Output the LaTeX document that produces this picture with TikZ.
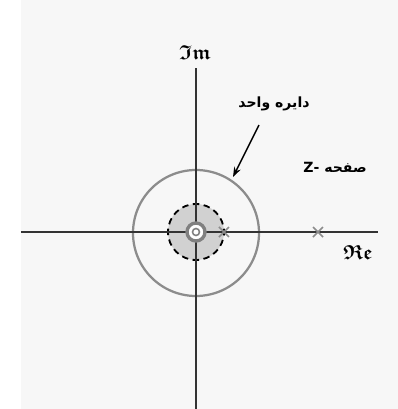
\documentclass[tikz,border=0pt]{standalone}
\usepackage{amsmath,amssymb}
\usepackage{fontspec}
\newfontfamily\arabicfont[Script=Arabic]{DejaVu Sans}
\TeXXeTstate=1
\usetikzlibrary{arrows.meta,positioning}
\tikzset{
  zpaxis/.style={line width=1.1pt,draw=black!80},
  zpunit/.style={line width=1.6pt,draw=black!45},
  zpregion/.style={line width=1.3pt,draw=black,fill=black!18,
    dash pattern=on 4.6pt off 3.2pt,dash phase=2.3pt},
  zpzero/.style={line width=2.4pt,draw=black!50,fill=white},
  zpzeroin/.style={line width=1.1pt,draw=black!50,fill=white},
  zppole/.style={line width=1.2pt,draw=black!45},
  zpedge/.style={-{Stealth[length=7pt,width=5pt]},line width=1.1pt},
  zpaxislab/.style={font=\Large\boldmath},
  zplabel/.style={font=\arabicfont\bfseries\normalsize,inner sep=1pt}
}
\newcommand{\zpcross}[2]{%
  \draw[zppole] (#1-5,#2-5) -- (#1+5,#2+5) (#1-5,#2+5) -- (#1+5,#2-5);}

\begin{document}
\begin{tikzpicture}[x=0.025cm,y=0.025cm]
  % page
  \useasboundingbox (-196,-177) rectangle (202,232);
  \fill[black!3] (-175,-177) rectangle (202,232);

  % circles
  \draw[zpunit] (0,-1) circle[radius=63];
  \draw[zpregion] (0,0) circle[radius=28];

  % axes
  \draw[zpaxis] (-175,0) -- (182,0);
  \draw[zpaxis] (0,-177) -- (0,164);

  % zero and poles
  \draw[zpzero] (0,0) circle[radius=9];
  \draw[zpzeroin] (0,0) circle[radius=3.5];
  \zpcross{28}{0}
  \zpcross{122}{0}

  % labels
  \node[zpaxislab] (imlab) at (-1,179) {$\mathfrak{Im}$};
  \node[zpaxislab] (relab) at (162,-20) {$\mathfrak{Re}$};
  \node[zplabel] (unitlab) at (78,128) {\beginR دایره واحد\endR};
  \node[zplabel] (planelab) at (139,65) {\beginR صفحه \beginL Z-\endL\endR};

  \coordinate (arrtail) at (63,107);
  \coordinate (arrtip) at (37,55);
  \draw[zpedge] (arrtail) -- (arrtip);
\end{tikzpicture}
\end{document}
